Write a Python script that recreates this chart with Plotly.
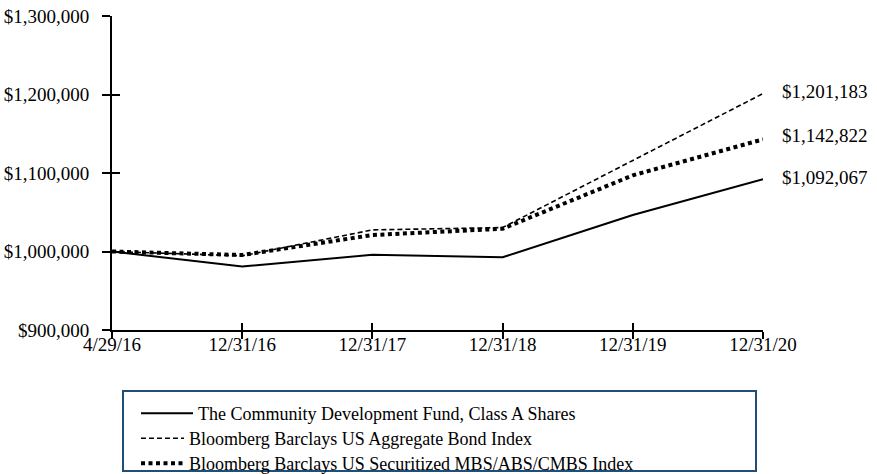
import plotly.graph_objects as go

# Growth of a $1,000,000 investment
dates = ["4/29/16", "12/31/16", "12/31/17", "12/31/18", "12/31/19", "12/31/20"]
fund_name = "The Community Development Fund, Class A Shares"
agg_name = "Bloomberg Barclays US Aggregate Bond Index"
sec_name = "Bloomberg Barclays US Securitized MBS/ABS/CMBS Index"
fund_values = [1000000, 980800, 995800, 992600, 1046500, 1092067]
agg_values = [1000000, 994500, 1027500, 1030500, 1116000, 1201183]
sec_values = [1000000, 995500, 1021000, 1029000, 1097000, 1142822]

FONT = "Times New Roman, Liberation Serif, serif"
W, H = 877, 474

fig = go.Figure()
fig.add_trace(go.Scatter(x=dates, y=fund_values, name=fund_name, mode="lines",
                         legend="legend",
                         line=dict(color="black", width=2, dash="solid")))
fig.add_trace(go.Scatter(x=dates, y=agg_values, name=agg_name, mode="lines",
                         legend="legend2",
                         line=dict(color="black", width=1.6, dash="5px,3px")))
fig.add_trace(go.Scatter(x=dates, y=sec_values, name=sec_name, mode="lines",
                         legend="legend3",
                         line=dict(color="black", width=4, dash="4px,3.5px")))
# helper trace so the overlay axes (inner half of the crossing ticks) get drawn
fig.add_trace(go.Scatter(x=[], y=[], xaxis="x2", yaxis="y2", showlegend=False,
                         hoverinfo="skip"))

# ending-value labels
for vals, dy in [(agg_values, 2), (sec_values, 4), (fund_values, 2)]:
    fig.add_annotation(x=dates[-1], y=vals[-1], text=f"${vals[-1]:,}",
                       xanchor="left", yanchor="middle", xshift=17, yshift=dy,
                       showarrow=False, font=dict(family=FONT, size=19, color="black"))

# frame around the legend rows
fig.add_shape(type="rect", xref="paper", yref="paper",
              x0=(123 - 112) / 651, x1=(756 - 112) / 651,
              y0=(330 - 471) / 314, y1=(330 - 391) / 314,
              line=dict(color="#1f4e79", width=2), fillcolor="rgba(0,0,0,0)")


def legend_row(top, itemwidth):
    return dict(xref="container", yref="container", x=136 / W, y=1 - top / H,
                xanchor="left", yanchor="top", borderwidth=0,
                bgcolor="rgba(0,0,0,0)",
                font=dict(family=FONT, size=18, color="black"),
                itemwidth=itemwidth)


fig.update_layout(
    width=W, height=H,
    margin=dict(l=112, r=114, t=16, b=144, autoexpand=False),
    paper_bgcolor="white", plot_bgcolor="white",
    font=dict(family=FONT, size=19, color="black"),
    xaxis=dict(type="category", range=[0, 5], showgrid=False, zeroline=False,
               showline=True, linecolor="black", linewidth=2,
               ticks="outside", ticklen=7, tickwidth=2, tickcolor="black",
               ticklabelstandoff=-11,
               tickfont=dict(family=FONT, size=19)),
    yaxis=dict(range=[900000, 1300000], dtick=100000, tickprefix="$", tickformat=",",
               showgrid=False, zeroline=False, showline=True, linecolor="black",
               linewidth=2, ticks="outside", ticklen=8, tickwidth=2, tickcolor="black",
               ticklabelstandoff=9,
               tickfont=dict(family=FONT, size=19)),
    xaxis2=dict(overlaying="x", range=[0, 5], dtick=1, showgrid=False, zeroline=False,
                showline=False, ticks="inside", ticklen=7, tickwidth=2,
                tickcolor="black", showticklabels=False, side="bottom"),
    yaxis2=dict(overlaying="y", range=[900000, 1300000], dtick=100000, showgrid=False,
                zeroline=False, showline=False, ticks="inside", ticklen=8, tickwidth=2,
                tickcolor="black", showticklabels=False, side="left"),
    legend=legend_row(395, 52),
    legend2=legend_row(420, 43),
    legend3=legend_row(445, 43),
    showlegend=True,
)

fig.write_html("out.html")
